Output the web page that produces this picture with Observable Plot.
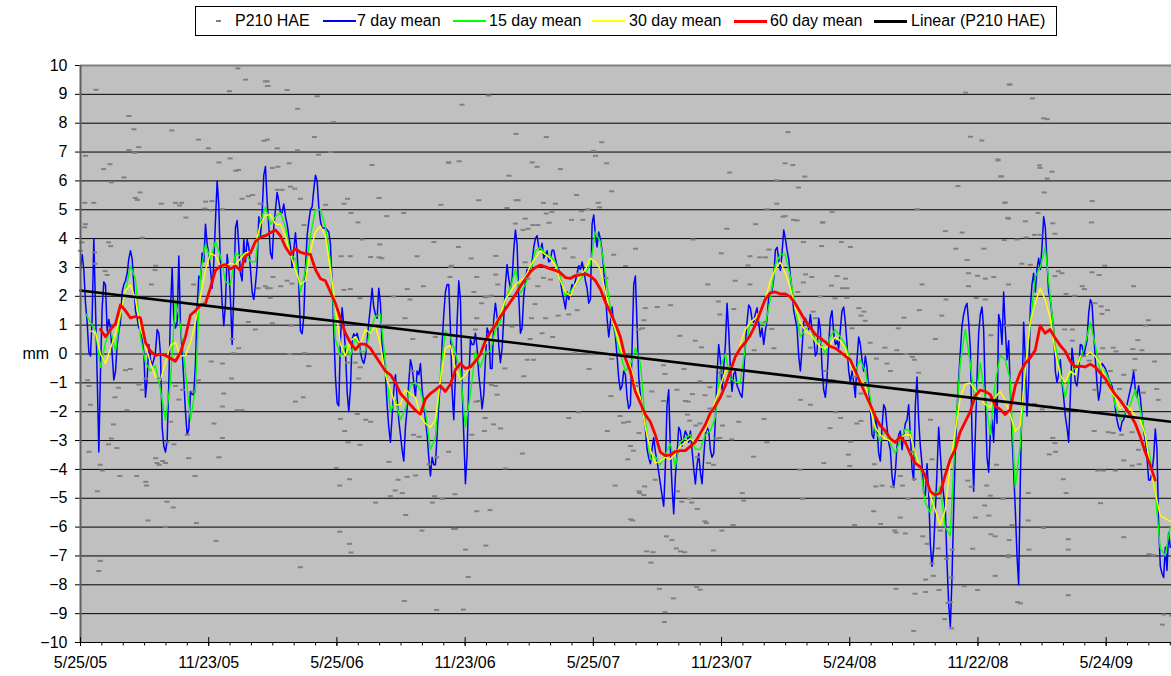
<!DOCTYPE html>
<html><head><meta charset="utf-8">
<script src="https://cdn.jsdelivr.net/npm/d3@7"></script>
<script src="https://cdn.jsdelivr.net/npm/@observablehq/plot@0.6"></script>
<style>
body{margin:0;background:#fff;font-family:"Liberation Sans",Arial,sans-serif;}
#wrap{position:relative;width:1171px;height:676px;overflow:hidden;}
#legend{position:absolute;left:195px;top:6px;width:860px;height:28px;border:1px solid #000;font-size:16px;color:#000;}
.lt{position:absolute;top:0;height:28px;line-height:28px;white-space:nowrap;}
.ls{position:absolute;}
#chart{position:absolute;left:0;top:40px;}
</style></head><body>
<div id="wrap"><div id="legend"></div><div id="chart"></div></div>
<script>
// ---------- data ----------
const startDate = "2005-05-25";
const xEndDay = 1553;                 // last day shown on x axis
const majorUnitDays = 182.5;          // x axis major unit
const minorUnitDays = 182.5 / 6;      // x axis minor unit
const xTickLabels = ["5/25/05","11/23/05","5/25/06","11/23/06","5/25/07","11/23/07","5/24/08","11/22/08","5/24/09"];
const yTicks = [-10,-9,-8,-7,-6,-5,-4,-3,-2,-1,0,1,2,3,4,5,6,7,8,9,10];

const seriesNames = ["P210 HAE","7 day mean","15 day mean","30 day mean","60 day mean","Linear (P210 HAE)"];
const seriesColors = ["#808080","#0000ff","#00ff00","#ffff00","#ff0000","#000000"];

// reading intervals (days) along the x axis
const meanStepDays = 7.115;   // 60/30/15 day means read every 7.115 days
const blueStepDays = 2.372;   // 7 day mean read every 2.372 days

// 60 day mean, first reading at index 4
const mean60Start = 4;
const mean60 = [
 0.85,0.6,0.85,1.05,1.7,1.5,1.25,1.3,1.25,0.4,
 0.1,-0.05,0.0,-0.05,-0.15,-0.25,0.05,0.6,1.35,1.5,
 1.7,1.75,2.3,2.9,3.05,3.1,2.95,3.05,2.9,3.4,
 3.5,3.9,4.05,4.1,4.2,4.3,4.1,3.71,3.45,3.65,
 3.52,3.48,3.45,2.93,2.61,2.54,2.15,1.76,1.24,0.72,
 0.39,0.15,0.35,0.33,0.2,-0.07,-0.33,-0.59,-0.72,-0.98,
 -1.37,-1.56,-1.76,-1.95,-2.08,-1.56,-1.37,-1.24,-1.1,-1.3,
 -1.05,-0.55,-0.33,-0.5,-0.45,-0.25,0.0,0.45,0.75,1.0,
 1.3,1.55,1.8,2.05,2.35,2.6,2.85,3.0,3.08,3.02,
 2.95,2.9,2.82,2.65,2.62,2.72,2.74,2.78,2.7,2.55,
 2.25,1.8,1.45,1.05,0.6,-0.15,-0.6,-1.3,-1.7,-2.1,
 -2.35,-2.8,-3.4,-3.52,-3.5,-3.38,-3.35,-3.35,-3.2,-3.05,
 -2.75,-2.45,-2.05,-1.8,-1.5,-1.1,-0.6,-0.1,0.2,0.4,
 0.65,1.0,1.45,1.9,2.12,2.15,2.08,2.08,1.98,1.75,
 1.45,1.15,0.92,0.68,0.55,0.42,0.26,0.2,0.07,-0.07,
 -0.2,-0.59,-0.98,-1.37,-1.76,-2.15,-2.48,-2.67,-2.93,-3.06,
 -2.87,-3.06,-3.45,-3.78,-3.91,-4.23,-4.76,-4.89,-4.82,-4.2,
 -3.65,-3.3,-2.7,-2.35,-2.0,-1.45,-1.25,-1.3,-1.4,-1.8,
 -1.92,-2.1,-1.92,-1.11,-0.65,-0.33,-0.13,0.13,0.98,0.72,
 0.85,0.55,0.3,0.1,-0.25,-0.45,-0.42,-0.45,-0.35,-0.45,
 -0.65,-0.85,-1.15,-1.4,-1.6,-1.85,-2.1,-2.4,-2.85,-3.4,
 -3.85,-4.37];

// 30 day mean, first reading at index 2
const mean30Start = 2;
const mean30 = [
 0.8,0.75,0.0,-0.33,0.2,0.7,1.4,2.2,2.4,1.89,
 0.9,0.3,-0.3,-0.8,-0.9,-0.3,0.3,0.4,-0.07,-0.05,
 0.4,1.1,2.0,2.9,3.5,3.4,3.05,3.05,3.15,3.1,
 3.3,3.5,3.55,3.8,4.5,4.8,4.83,4.5,4.5,4.1,
 3.45,2.93,2.41,2.54,3.58,4.23,4.43,4.1,2.93,1.63,
 0.33,-0.07,0.46,0.59,0.33,0.85,0.72,0.98,0.33,-0.72,
 -1.24,-1.76,-1.76,-1.24,-1.37,-1.5,-2.15,-2.41,-2.54,-2.28,
 -0.9,0.2,0.3,-0.5,-0.9,-0.72,-0.46,-0.2,0.07,0.33,
 0.59,1.1,1.37,1.89,2.15,2.41,2.54,2.67,3.06,3.32,
 3.58,3.45,3.32,3.06,2.54,2.15,2.02,2.41,2.67,2.93,
 3.32,3.19,2.93,2.15,1.37,0.85,0.2,-0.2,-0.4,-1.1,
 -1.5,-2.54,-3.32,-3.78,-3.72,-3.58,-3.65,-3.45,-3.19,-3.06,
 -2.93,-3.06,-2.8,-2.67,-2.15,-1.63,-1.11,-0.59,-0.46,-0.2,
 0.33,0.85,1.1,1.24,1.5,1.89,2.54,2.93,3.19,2.8,
 2.3,1.6,1.1,0.8,0.7,0.45,0.25,0.2,0.33,0.59,
 0.46,0.2,-0.33,-0.72,-0.85,-1.11,-1.89,-2.54,-2.8,-2.93,
 -3.0,-3.06,-2.93,-2.8,-2.8,-3.45,-3.97,-4.23,-4.89,-5.41,
 -5.93,-5.41,-3.8,-2.7,-1.5,-1.05,-1.0,-1.24,-1.5,-1.75,
 -1.85,-1.5,-1.3,-1.6,-2.1,-2.67,-2.5,-0.6,1.1,1.76,
 2.28,1.89,1.24,0.07,-0.72,-0.98,-0.59,-0.72,-0.07,-0.07,
 0.07,-0.07,-0.33,-0.85,-1.24,-1.5,-1.89,-1.76,-1.89,-2.15,
 -2.28,-2.8,-3.84,-4.76,-5.6,-5.7,-5.8];

// 15 day mean, first reading at index 1
const mean15Start = 1;
const mean15 = [
 1.4,1.1,0.8,-0.46,0.4,0.85,0.1,1.37,2.15,3.06,
 2.6,0.59,-0.3,-0.59,-0.4,-1.24,-2.3,-0.98,1.9,0.98,
 -0.6,-2.28,-1.2,2.8,3.8,3.3,3.9,3.4,2.5,2.4,
 3.5,3.4,3.5,3.2,3.2,4.6,5.1,4.5,4.76,4.9,
 4.4,3.45,3.3,2.15,2.9,4.1,5.0,5.0,4.4,3.2,
 0.5,-0.07,0.3,-0.07,0.6,0.07,0.1,0.85,1.3,1.37,
 -0.3,-2.0,-1.6,-2.28,-1.9,-1.1,-0.98,-1.24,-2.0,-3.32,
 -2.9,-0.72,0.8,0.6,0.05,-0.6,-2.54,-1.4,0.07,-0.46,
 0.07,0.1,0.85,1.1,1.89,2.3,2.93,2.1,2.41,2.85,
 3.58,3.7,3.45,3.4,3.19,2.7,2.02,2.15,2.41,2.6,
 2.8,3.1,4.23,3.9,2.8,1.6,0.72,0.0,-0.59,-0.4,
 0.2,-0.3,-2.3,-3.65,-3.55,-3.84,-3.5,-3.1,-3.9,-3.06,
 -2.9,-2.8,-3.3,-3.3,-2.8,-2.67,-2.2,-0.46,0.0,-0.85,
 -0.98,-0.98,0.2,1.1,1.24,1.1,1.0,1.9,3.1,3.45,
 3.45,2.67,1.63,0.59,0.85,0.98,0.45,0.45,0.0,0.6,
 0.85,0.6,0.33,-0.2,-0.59,-0.2,-0.59,-1.5,-2.67,-3.0,
 -2.67,-3.1,-3.45,-3.0,-2.6,-2.67,-3.58,-3.9,-5.15,-5.5,
 -4.89,-4.6,-6.0,-6.3,-2.8,-0.3,0.85,-0.3,-1.76,-0.3,
 -1.5,-2.8,-1.0,-0.05,-0.2,-0.9,-4.63,-3.2,-0.46,1.0,
 2.67,3.0,3.71,2.0,0.33,-0.6,-1.5,-0.7,-0.46,-0.2,
 0.33,1.1,0.33,-0.59,-0.59,-1.0,-1.76,-2.28,-2.02,-1.76,
 -1.24,-1.9,-2.8,-3.6,-4.76,-6.7,-7.0,-6.0];

// 7 day mean, first reading at index 0
const mean7Start = 0;
const mean7 = [
 2.93,3.45,2.93,1.76,1.1,0.07,-0.07,1.3,4.0,1.63,
 -0.72,-3.4,-0.6,1.6,2.5,2.4,0.8,1.2,0.9,0.0,
 -0.9,-0.6,0.3,0.8,1.1,2.15,2.41,2.54,2.8,3.3,
 3.58,3.3,2.4,1.5,1.24,0.9,1.0,0.5,0.07,-1.5,
 -0.85,0.33,-0.2,-0.4,-0.2,0.07,0.85,0.72,0.0,-2.54,
 -3.19,-3.4,-3.0,-1.0,1.5,3.0,1.2,0.9,1.1,3.4,
 1.0,0.1,-0.9,-2.0,-2.8,-2.6,-1.3,-1.4,-1.4,-0.3,
 1.6,2.7,2.6,3.5,3.2,4.5,3.8,3.45,2.93,2.28,
 3.19,4.63,6.0,5.15,2.93,1.76,0.98,1.76,3.45,2.93,
 1.89,0.33,2.15,4.37,4.63,3.71,2.8,2.54,3.97,3.19,
 3.97,3.71,2.93,2.15,1.89,2.41,3.06,4.76,
 4.1,4.9,6.2,6.5,5.3,4.4,3.5,3.3,4.4,5.0,
 5.6,5.3,4.9,4.9,5.2,4.76,4.5,4.1,3.71,3.0,
 3.6,4.2,3.5,2.4,0.8,0.7,1.3,3.0,4.1,4.6,
 5.0,5.1,5.7,6.2,6.0,5.1,4.6,4.37,4.37,4.37,
 4.3,4.23,3.8,2.4,0.8,-0.8,-1.7,-1.8,0.5,1.6,
 1.0,0.1,-1.3,-2.0,-1.2,0.5,0.7,0.6,0.72,0.46,
 0.07,-0.2,-0.33,-0.07,0.46,1.1,1.63,2.28,1.63,1.37,
 1.24,2.28,1.76,0.33,-0.2,-0.72,-1.76,-2.54,-3.06,-2.15,
 -1.24,-0.72,-1.5,-2.28,-2.8,-3.32,-3.71,-2.54,-1.89,-0.98,
 -0.2,-0.46,-0.98,-1.5,-0.59,-0.72,-0.33,-1.24,-1.76,-2.28,
 -2.8,-3.58,-4.23,-3.58,-3.84,-3.84,-2.8,-1.76,-0.98,0.33,
 1.37,
 2.15,2.41,2.41,0.85,-1.24,-2.28,-0.72,1.1,2.54,1.89,
 -1.11,-2.8,-4.5,-3.5,-1.0,0.5,0.33,0.33,0.72,0.2,
 -0.72,-1.24,-1.9,-1.4,-0.2,0.9,0.72,-0.5,-0.5,1.2,
 1.76,1.3,0.3,-0.3,0.2,1.24,2.41,3.1,2.6,2.28,
 2.6,3.6,4.3,3.8,2.0,0.72,0.9,2.0,2.54,2.93,
 2.93,2.8,3.2,3.7,4.0,4.1,3.71,3.58,3.84,3.32,
 3.45,3.58,3.19,3.25,3.6,3.6,3.3,3.06,2.93,2.54,
 2.15,1.89,1.56,2.15,1.89,2.15,2.41,2.28,2.54,2.8,
 3.06,2.93,3.19,2.93,2.54,2.28,1.76,1.89,4.5,4.82,
 4.1,3.71,4.23,3.97,3.58,2.93,2.15,1.24,0.59,1.1,
 1.63,0.98,0.59,-0.07,-0.85,-1.24,-1.11,-0.59,-0.72,-1.5,
 -1.89,
 -1.76,0.2,2.41,2.7,1.0,-0.8,-1.4,-1.9,-2.2,-2.6,
 -3.3,-3.6,-3.8,-3.3,-2.9,-3.4,-3.7,-4.1,-4.5,-4.9,
 -5.28,-3.84,-1.76,-1.24,-3.3,-4.6,-5.54,-4.23,-3.45,-2.54,
 -2.67,-3.19,-2.93,-2.67,-2.8,-3.06,-2.67,-3.32,-3.97,-4.5,
 -3.84,-3.45,-4.1,-4.5,-3.58,-2.8,-2.54,-2.67,-3.32,-3.58,
 -3.45,-2.28,-0.72,0.33,-0.2,-1.24,-0.46,0.33,1.76,0.8,
 -0.5,-1.3,-0.7,-0.6,-1.1,-1.24,-1.4,-1.5,-0.72,0.33,
 1.1,1.7,1.6,1.2,1.1,1.4,1.6,1.1,0.6,0.9,
 0.33,0.8,1.2,2.0,2.1,2.2,2.6,3.6,3.7,3.3,
 2.9,3.5,4.3,4.0,3.6,3.3,2.7,2.2,1.5,1.2,
 0.9,-0.07,-0.59,0.2,1.1,1.24,1.1,0.85,1.37,0.85,
 0.59,
 -0.07,0.07,1.24,0.85,-0.46,-1.24,-1.5,-0.85,0.33,1.24,
 1.5,0.72,0.33,0.46,0.2,0.85,1.5,1.63,1.1,0.33,
 -0.59,-0.98,-0.59,-0.98,-1.5,-0.2,0.59,0.33,-0.2,-0.59,
 -0.07,-0.46,-1.24,-1.89,-2.8,-2.93,-2.15,-2.54,-3.45,-3.71,
 -2.54,-1.76,-1.89,-2.54,-3.06,-3.32,-4.23,-4.63,-4.1,-3.19,
 -2.8,-2.67,-3.32,-2.8,-2.41,-2.28,-1.76,-2.8,-3.97,-4.37,
 -1.76,-0.8,-2.3,-3.2,-3.8,-4.8,-4.9,-3.8,-4.8,-6.6,
 -7.36,-6.71,-5.41,-4.1,-2.54,-3.45,-4.37,-4.89,-5.41,-7.23,
 -8.66,-9.45,-7.75,-5.41,-3.32,-2.02,-0.85,0.07,0.98,1.37,
 1.63,1.76,1.1,0.2,-2.8,-4.76,-2.8,-0.85,0.72,1.37,
 1.63,0.85,-1.5,-3.58,-4.1,-2.8,-2.28,-3.06,
 -1.5,-2.4,1.37,1.1,0.33,2.15,0.85,-0.2,0.46,-1.24,
 -2.8,-4.1,-5.41,-6.97,-8.0,-4.4,-1.5,1.1,-0.2,-2.15,
 -1.0,1.6,2.41,2.8,2.15,2.93,3.32,2.93,3.71,4.76,
 4.37,3.19,2.15,1.89,1.37,0.85,-0.59,-0.98,-0.72,-0.2,
 -0.98,-1.5,-2.15,-2.54,-3.06,-1.5,0.2,-0.3,-0.98,-1.11,
 -0.59,0.33,0.3,-0.07,0.2,0.46,1.4,1.89,1.76,0.8,
 -0.2,-1.0,-1.6,-1.24,-0.33,-0.4,-0.5,-0.65,-0.85,-0.98,
 -1.11,-1.37,-1.89,-2.28,-2.54,-2.67,-2.35,-2.28,-2.02,-1.76,
 -1.5,-1.24,-0.98,-0.59,-1.24,-1.5,-1.1,-1.5,-2.15,-2.67,
 -3.0,-3.58,-4.37,-4.37,-4.1,-3.58,-2.6,-3.3,-5.9,-7.36,
 -7.6,-7.75,-6.7,-7.5,-6.2,-6.7];

// Linear trend of P210 HAE: [day, mm] at both ends
const trendDays = [0, 1552];
const trendMm = [2.2, -2.35];

// visible daily P210 HAE values: [day since start, mm]
const p210 = [
 [224,9.9],[235,9.51],[266,9.45],[22,9.16],[212,9.11],[267,9.29],[69,8.25],[76,7.79],[130,7.75],[168,7.43],[182,7.13],[69,7.07],[83,7.17],[77,6.97],[7,6.87],[42,6.58],[33,6.41],[197,6.64],[213,6.78],[225,6.38],[221,6.35],[62,6.12],[44,5.95],[85,5.6],[78,5.41],[81,5.34],[6,5.24],[19,5.24],[135,5.24],[144,5.24],[141,5.15],[115,5.21],[178,5.28],[187,5.3],[186,4.98],[202,5.02],[177,5.04],[230,5.38],[239,5.47],[245,5.51],[256,5.21],[150,4.73],[6,4.39],[2,3.87],[40,3.87],[43,3.74],[88,4.03],[107,3.06],[106,2.91],[161,2.41],[101,2.41],[270,1.95],[266,2.28],[253,2.28],[35,2.87],[38,2.74],[239,1.11],[249,0.85],[225,0.2],[202,-0.33],[186,-0.26],[216,0.52],[218,0.03],[215,-0.85],[230,-1.95],[223,-1.95],[204,-1.37],[202,-1.82],[190,-2.41],[168,-0.91],[161,-1.3],[145,-1.24],[140,-1.58],[135,-1.11],[119,-0.98],[112,-0.85],[93,-0.85],[88,-1.24],[83,-1.06],[71,-0.52],[64,-0.56],[54,-1.17],[49,-1.5],[12,-1.11],[10,-0.91],[14,-1.76],[12,-3.39],[24,-4.76],[28,-3.84],[31,-4.04],[40,-3.13],[47,-2.44],[44,-2.93],[52,-3.26],[56,-4.23],[66,-1.95],[80,-4.23],[93,-4.43],[94,-4.56],[96,-5.77],[107,-3.61],[109,-3.78],[112,-3.84],[117,-3.71],[121,-3.78],[123,-3.06],[128,-2.35],[133,-3.13],[123,-5.12],[132,-5.32],[121,-5.99],[152,-2.8],[154,-3.61],[163,-4.23],[165,-5.86],[193,-6.48],[28,-7.17],[26,-7.52],[202,-2.91],[197,-3.58],[20,3.52],[21,3.13],[7,4.5],[0,3.58],
 [263,9.45],[266,9.29],[294,9.15],[337,8.93],[309,8.5],[360,8.04],[261,7.39],[266,7.43],[280,7.13],[333,7.52],[309,7.06],[356,7.0],[339,6.91],[297,6.61],[273,6.45],[281,6.49],[415,6.55],[524,6.64],[299,5.8],[305,5.73],[313,5.38],[280,5.69],[287,5.69],[349,5.17],[380,5.38],[375,5.21],[425,5.41],[385,4.89],[436,4.78],[460,4.89],[513,5.17],[395,4.56],[318,4.47],[401,3.97],[503,3.88],[371,3.39],[384,3.39],[413,3.36],[425,3.35],[429,3.32],[426,3.8],[479,3.39],[528,3.06],[526,2.67],[274,2.67],[263,2.35],[270,2.28],[285,2.35],[294,2.54],[301,2.44],[375,2.22],[384,2.25],[398,1.93],[446,1.99],[469,1.89],[488,2.35],[465,2.25],[462,1.24],[273,1.07],[300,0.98],[298,0.0],[319,0.03],[325,-0.42],[473,0.52],[505,0.59],[380,-0.3],[391,-0.3],[398,-0.46],[396,-0.85],[472,-0.59],[306,-1.65],[317,-1.5],[370,-2.25],[394,-2.08],[406,-2.28],[413,-2.35],[376,-2.67],[381,-3.06],[398,-3.15],[474,-2.8],[482,-2.87],[496,-3.82],[507,-3.58],[439,-3.74],[364,-3.95],[477,-4.21],[465,-4.26],[452,-4.36],[369,-4.56],[383,-4.34],[441,-4.93],[448,-4.73],[458,-4.82],[420,-5.15],[463,-5.58],[504,-4.93],[501,-5.15],[515,-5.02],[486,-6.12],[531,-6.06],[369,-6.16],[383,-6.58],[385,-6.88],[313,-7.39],[461,-8.56],[507,-8.87],
 [581,8.96],[543,8.64],[620,7.63],[663,7.52],[742,7.34],[730,7.04],[733,6.87],[749,6.61],[524,6.63],[539,6.68],[643,6.64],[650,6.49],[683,6.41],[610,6.18],[756,5.64],[706,5.51],[567,5.33],[620,5.33],[623,5.33],[607,5.06],[659,5.24],[676,5.21],[671,4.93],[663,4.87],[713,4.95],[722,5.02],[737,5.24],[739,5.08],[619,4.52],[633,4.69],[644,4.47],[651,4.47],[637,4.34],[667,4.55],[699,4.65],[715,4.65],[630,4.3],[538,3.71],[591,3.4],[556,3.31],[633,3.18],[689,3.66],[701,3.35],[759,3.44],[776,3.05],[564,2.67],[591,2.75],[594,2.41],[637,2.61],[651,2.35],[659,2.64],[669,2.58],[709,2.8],[748,2.63],[527,3.02],[560,2.15],[580,1.99],[571,1.76],[576,1.97],[585,2.02],[647,1.73],[680,1.33],[695,1.37],[707,1.52],[642,1.24],[662,1.24],[672,0.59],[657,0.72],[564,1.24],[562,0.85],[614,0.95],[640,0.52],[703,0.03],[728,-0.01],[756,-0.17],[794,0.85],[631,-0.77],[636,-0.2],[645,-0.2],[604,-0.5],[724,-0.52],[755,-1.46],[591,-1.11],[585,-1.07],[563,-1.65],[567,-1.63],[593,-1.41],[576,-2.22],[588,-2.44],[598,-2.58],[575,-2.67],[709,-2.02],[695,-2.22],[750,-2.67],[768,-2.15],[773,-2.38],[780,-2.35],[795,-2.74],[524,-3.39],[557,-2.8],[629,-3.45],[605,-3.97],[779,-3.65],[761,-4.56],[795,-4.76],[533,-4.86],[564,-5.45],[583,-5.41],[534,-6.06],[577,-6.64],[786,-5.77],[548,-6.78],[552,-7.73],[545,-8.86],
 [1007,7.69],[1003,6.61],[1014,6.55],[924,6.29],[1031,6.15],[991,6.02],[1022,5.77],[991,5.21],[977,5.02],[1003,4.78],[1000,4.76],[1015,4.65],[1020,4.63],[1057,4.56],[961,4.5],[920,4.34],[872,3.97],[1029,3.88],[790,3.65],[980,3.62],[975,3.35],[912,3.49],[953,3.39],[950,3.07],[967,3.35],[1032,2.76],[1041,2.67],[893,2.41],[932,2.54],[953,2.41],[1029,2.48],[1021,2.15],[821,1.63],[840,1.69],[804,1.59],[908,1.82],[930,1.56],[1043,1.47],[1046,1.24],[802,1.17],[800,0.89],[910,1.37],[853,0.63],[975,1.11],[984,0.87],[875,0.46],[884,0.23],[959,0.13],[987,0.2],[1039,0.22],[818,-0.2],[830,-0.39],[859,-0.52],[832,-0.69],[911,-0.65],[882,-0.95],[813,-1.3],[792,-1.11],[849,-1.24],[896,-1.15],[871,-1.39],[865,-1.65],[830,-1.63],[861,-1.63],[889,-1.43],[923,-1.47],[973,-2.25],[937,-2.35],[1025,-1.59],[1039,-1.76],[1058,-3.78],[896,-1.89],[864,-2.1],[867,-2.31],[876,-2.48],[882,-2.41],[910,-2.91],[914,-2.48],[927,-2.96],[977,-3.06],[905,-2.93],[783,-3.19],[787,-3.35],[878,-3.58],[901,-3.84],[894,-3.78],[958,-3.56],[1024,-4.01],[796,-4.82],[802,-4.89],[803,-4.59],[818,-4.36],[850,-4.76],[856,-5.12],[867,-5.02],[870,-5.15],[878,-5.37],[942,-4.82],[944,-5.08],[889,-5.8],[891,-5.86],[913,-6.12],[929,-5.93],[1028,-5.02],[783,-5.73],[834,-6.32],[842,-6.45],[848,-6.74],[854,-6.84],[860,-6.87],[806,-6.84],[815,-6.87],[812,-7.23],[901,-6.81],[844,-8.47],[877,-8.08],[882,-8.17],[824,-8.14],[832,-8.95],[831,-9.29],
 [1260,9.06],[1322,9.34],[1267,7.53],[1283,7.4],[1306,6.71],[1310,6.16],[1249,5.82],[1316,5.25],[1191,5.02],[1070,4.93],[1321,4.69],[1056,4.56],[1231,4.26],[1255,4.21],[1055,3.74],[1083,3.88],[1096,3.71],[1246,3.65],[1286,3.65],[1262,3.26],[1077,2.7],[1089,2.61],[1069,2.37],[1085,2.28],[1091,2.28],[1198,2.41],[1264,2.8],[1277,2.71],[1288,2.61],[1300,2.67],[1264,2.35],[1232,1.89],[1275,1.94],[1288,1.89],[1053,1.99],[1074,1.93],[1091,1.95],[1108,1.59],[1115,1.47],[1117,1.15],[1111,1.33],[1172,1.26],[1194,1.52],[1226,1.33],[1164,0.89],[1217,0.52],[1296,0.65],[1319,0.98],[1098,0.89],[1124,0.39],[1145,0.22],[1162,0.13],[1133,-0.16],[1175,0.0],[1184,-0.1],[1193,-0.65],[1187,-0.2],[1148,-0.33],[1153,-0.59],[1102,-0.78],[1111,-1.37],[1060,-0.59],[1071,-0.91],[1075,-2.02],[1082,-2.22],[1067,-2.57],[1105,-2.41],[1111,-2.32],[1210,-2.28],[1184,-3.39],[1212,-3.65],[1096,-3.04],[1093,-3.49],[1095,-3.88],[1130,-3.82],[1132,-4.59],[1141,-4.56],[1167,-4.23],[1170,-4.56],[1178,-5.02],[1187,-4.34],[1156,-4.6],[1268,-4.6],[1263,-4.39],[1290,-4.56],[1295,-4.91],[1293,-5.6],[1296,-6.25],[1302,-6.32],[1322,-6.45],[1274,-5.67],[1287,-5.25],[1224,-6.12],[1199,-6.32],[1159,-6.12],[1161,-6.19],[1174,-6.22],[1167,-5.67],[1129,-5.45],[1102,-5.93],[1139,-5.89],[1205,-6.58],[1212,-7.26],[1214,-7.69],[1203,-7.82],[1221,-6.74],[1233,-7.1],[1240,-7.75],[1241,-6.78],[1258,-8.05],[1277,-8.18],[1270,-6.75],[1302,-7.69],[1321,-6.97],[1161,-8.14],[1188,-8.31],[1203,-8.25],[1222,-8.18],[1235,-8.63],[1240,-9.51],[1230,-9.19],[1186,-9.6],[1238,-8.6],
 [1323,9.34],[1355,8.86],[1371,8.17],[1376,8.14],[1306,6.74],[1365,6.54],[1366,6.45],[1383,6.32],[1311,6.15],[1376,6.08],[1372,5.6],[1440,5.3],[1316,5.24],[1363,4.89],[1320,4.72],[1345,4.6],[1439,4.56],[1384,4.53],[1387,4.17],[1358,4.13],[1366,4.13],[1346,4.04],[1315,3.95],[1333,3.97],[1340,3.13],[1352,3.09],[1392,2.87],[1387,2.7],[1397,2.8],[1440,2.83],[1450,2.74],[1458,3.06],[1426,2.35],[1429,2.25],[1499,2.35],[1321,2.41],[1403,2.08],[1415,2.02],[1444,1.76],[1453,1.65],[1462,1.52],[1454,1.39],[1520,1.17],[1516,0.98],[1401,0.85],[1412,0.85],[1412,0.46],[1505,0.48],[1511,0.13],[1498,0.17],[1455,0.2],[1470,0.22],[1474,0.09],[1428,-0.07],[1436,-0.23],[1466,-0.59],[1501,-0.17],[1500,-0.56],[1529,-0.26],[1485,-0.72],[1532,-1.21],[1444,-1.24],[1358,-1.73],[1369,-1.92],[1380,-1.82],[1479,-1.21],[1534,-1.59],[1513,-1.34],[1443,-2.67],[1463,-2.71],[1470,-2.74],[1497,-2.71],[1482,-2.8],[1384,-2.91],[1387,-3.09],[1506,-3.32],[1485,-3.69],[1497,-3.87],[1507,-3.82],[1379,-3.48],[1388,-3.39],[1448,-4.04],[1456,-4.04],[1473,-4.04],[1399,-4.34],[1403,-4.82],[1304,-3.84],[1452,-5.17],[1313,-5.02],[1349,-4.82],[1349,-5.77],[1326,-5.93],[1371,-6.03],[1321,-7.04],[1350,-6.78],[1406,-6.42],[1406,-6.78],[1485,-6.35],[1521,-6.94],[1527,-6.97],[1406,-8.36],[1338,-8.64],[1334,-8.6],[1542,-9.03],[1540,-9.38],[1553,-9.06]
];

// ---------- build ----------
const t0 = Date.parse(startDate);
const DAY = 864e5;
const toDate = d => new Date(t0 + d * DAY);
const series = (vals, start, step) => vals.map((v, k) => ({date: toDate((start + k) * step), v}));

const d60 = series(mean60, mean60Start, meanStepDays);
const d30 = series(mean30, mean30Start, meanStepDays);
const d15 = series(mean15, mean15Start, meanStepDays);
const d7 = series(mean7, mean7Start, blueStepDays);
const dRaw = p210.map(([d, v]) => ({date: toDate(d), v}));
const dTrend = trendDays.map((d, k) => ({date: toDate(d), v: trendMm[k]}));

const majorTicks = xTickLabels.map((_, k) => toDate(k * majorUnitDays));
const minorTicks = d3.range(0, xEndDay, minorUnitDays).map(toDate);
const fmt = d3.utcFormat("%-m/%-d/%y");

const dash = {draw(ctx) { ctx.moveTo(-2.5, -1); ctx.lineTo(2.5, -1); ctx.lineTo(2.5, 1); ctx.lineTo(-2.5, 1); ctx.closePath(); }};

const chart = Plot.plot({
  width: 1171, height: 636,
  marginTop: 25, marginBottom: 34, marginLeft: 80, marginRight: 0,
  style: {background: "transparent", fontFamily: "'Liberation Sans', Arial, sans-serif", fontSize: "16px", color: "#000", overflow: "visible"},
  x: {type: "utc", domain: [toDate(0), toDate(xEndDay)], ticks: majorTicks, tickFormat: fmt, tickSize: 4, tickPadding: 10, label: null},
  y: {domain: [-10, 10], ticks: yTicks, tickSize: 5, tickPadding: 8, label: null},
  marks: [
    Plot.frame({fill: "#c0c0c0", stroke: null}),
    Plot.ruleY(yTicks, {stroke: "#000", strokeWidth: 1}),
    Plot.line(d7, {x: "date", y: "v", stroke: seriesColors[1], strokeWidth: 1.5}),
    Plot.line(d15, {x: "date", y: "v", stroke: seriesColors[2], strokeWidth: 1.4}),
    Plot.line(d30, {x: "date", y: "v", stroke: seriesColors[3], strokeWidth: 1.4}),
    Plot.line(d60, {x: "date", y: "v", stroke: seriesColors[4], strokeWidth: 2.8}),
    Plot.dot(dRaw, {x: "date", y: "v", symbol: dash, fill: seriesColors[0], stroke: "none"}),
    Plot.line(dTrend, {x: "date", y: "v", stroke: seriesColors[5], strokeWidth: 2.6}),
    Plot.ruleY([10], {stroke: "#808080", strokeWidth: 2}),
    Plot.ruleX([toDate(0)], {y1: -10, y2: 10, stroke: "#606060", strokeWidth: 2}),
    Plot.ruleX(minorTicks, {x: d => d, y1: -10, y2: -10.12, stroke: "#000"}),
    Plot.ruleX(majorTicks, {x: d => d, y1: -10, y2: -9.83, stroke: "#000"}),
    Plot.text(["mm"], {frameAnchor: "left", dx: -58, text: d => d, fontSize: 16})
  ]
});
document.getElementById("chart").append(chart);

// ---------- legend ----------
const legend = document.getElementById("legend");
const textLeft = [39, 161, 293, 433, 574, 715];
const swatchLeft = [null, 127, 257, 396, 538, 678];
const swatchWidth = [2, 2, 2, 2, 3, 3];
seriesNames.forEach((name, k) => {
  const s = document.createElement("div");
  s.className = "ls";
  if (k === 0) {
    s.style.cssText = `left:20px;top:13px;width:5px;height:2px;background:${seriesColors[0]}`;
  } else {
    s.style.cssText = `left:${swatchLeft[k]}px;top:${14 - Math.floor(swatchWidth[k] / 2)}px;width:33px;height:${swatchWidth[k]}px;background:${seriesColors[k]}`;
  }
  legend.append(s);
  const t = document.createElement("div");
  t.className = "lt";
  t.style.left = textLeft[k] + "px";
  t.textContent = name;
  legend.append(t);
});
</script>
</body></html>
